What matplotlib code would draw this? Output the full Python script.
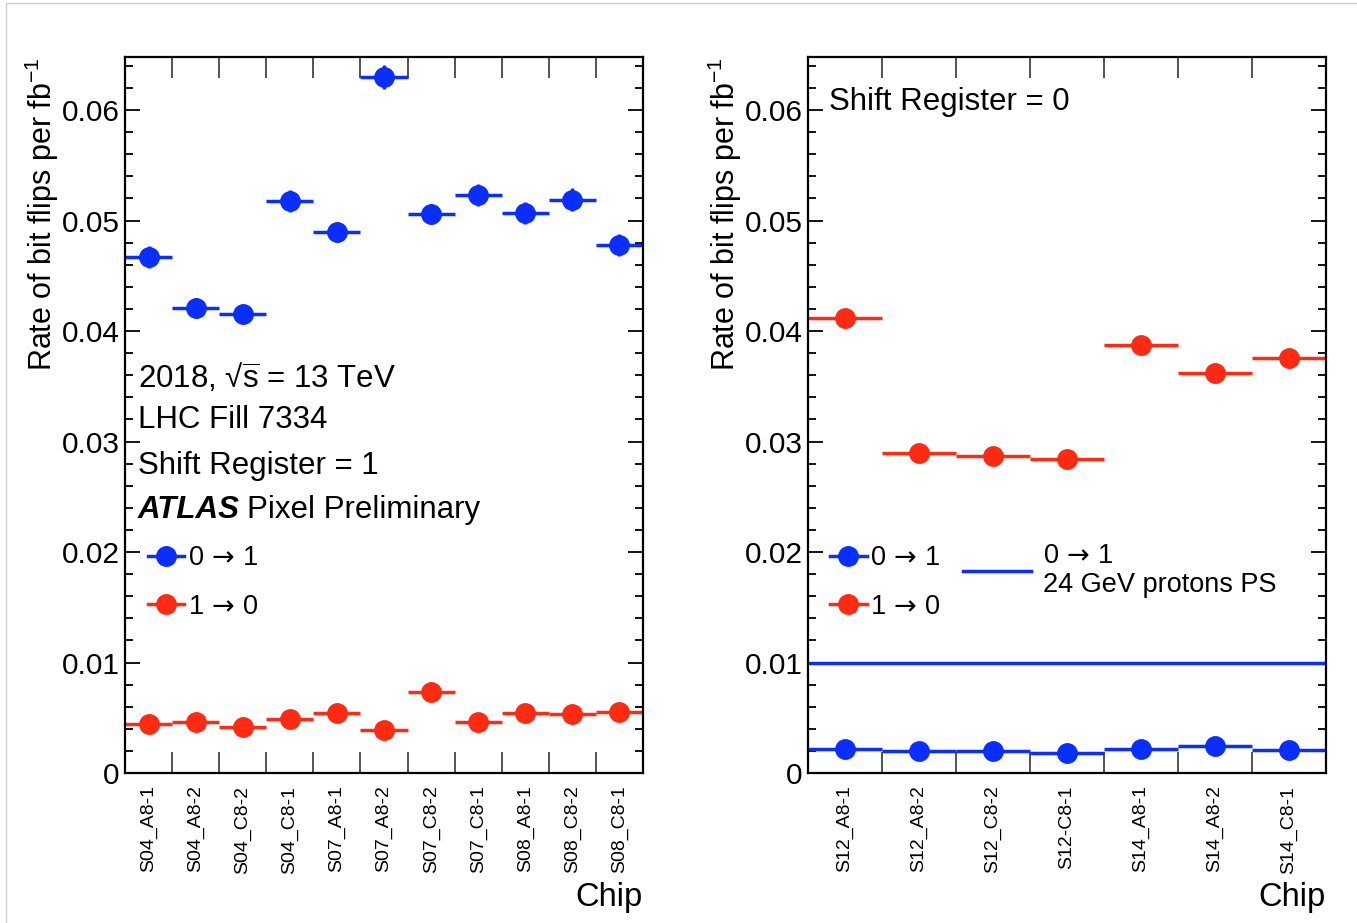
import numpy as np
import matplotlib.pyplot as plt
from matplotlib.lines import Line2D
from matplotlib.patches import Rectangle
from matplotlib.ticker import MultipleLocator

plt.rcParams['font.family'] = ['Liberation Sans', 'DejaVu Sans']
plt.rcParams['mathtext.fontset'] = 'custom'
plt.rcParams['mathtext.rm'] = 'Liberation Sans'
plt.rcParams['mathtext.it'] = 'Liberation Sans:italic'
plt.rcParams['mathtext.bf'] = 'Liberation Sans:bold'
plt.rcParams['mathtext.sf'] = 'DejaVu Sans'

# Shift Register = 1
chips_sr1 = ['S04_A8-1', 'S04_A8-2', 'S04_C8-2', 'S04_C8-1', 'S07_A8-1', 'S07_A8-2',
             'S07_C8-2', 'S07_C8-1', 'S08_A8-1', 'S08_C8-2', 'S08_C8-1']
rate01_sr1 = [0.0467, 0.0421, 0.0415, 0.0518, 0.0490, 0.0630, 0.0506, 0.0523, 0.0507, 0.0519, 0.0478]
err01_sr1 = [0.0010, 0.0009, 0.0009, 0.0010, 0.0009, 0.0011, 0.0009, 0.0010, 0.0010, 0.0010, 0.0010]
rate10_sr1 = [0.0044, 0.0046, 0.0042, 0.0049, 0.0054, 0.0039, 0.0073, 0.0046, 0.0054, 0.0053, 0.0055]
err10_sr1 = [0.0003] * 11

# Shift Register = 0
chips_sr0 = ['S12_A8-1', 'S12_A8-2', 'S12_C8-2', 'S12-C8-1', 'S14_A8-1', 'S14_A8-2', 'S14_C8-1']
rate01_sr0 = [0.0022, 0.0020, 0.0020, 0.0018, 0.0022, 0.0024, 0.0021]
err01_sr0 = [0.0003] * 7
rate10_sr0 = [0.0412, 0.0290, 0.0287, 0.0284, 0.0387, 0.0362, 0.0376]
err10_sr0 = [0.0005] * 7

ps_rate01 = 0.01

yticks = [0, 0.01, 0.02, 0.03, 0.04, 0.05, 0.06]
yticklabels = ['0', '0.01', '0.02', '0.03', '0.04', '0.05', '0.06']

ARROW = r'$\,\mathsf{\rightarrow}\,$'
lab01 = '0' + ARROW + '1'
lab10 = '1' + ARROW + '0'

BLUE = '#0a2eff'
RED = '#ff2a12'
W, H = 1357, 923
TXT = 22.5


def draw_panel(ax, chips, r01, e01, r10, e10):
    n = len(chips)
    x = np.arange(n) + 0.5
    kw = dict(xerr=0.5, fmt='o', ms=14, lw=0, elinewidth=2.5, capsize=0)
    ax.errorbar(x, r10, yerr=e10, color=RED, **kw)
    ax.errorbar(x, r01, yerr=e01, color=BLUE, **kw)
    ax.set_xlim(0, n)
    ax.set_ylim(0, 0.0648)
    ax.set_xticks(np.arange(n + 1))
    ax.set_xticks(x, chips, minor=True)
    ax.tick_params(axis='x', which='major', direction='in', top=True, length=15,
                   width=1.3, color='#444444', labelbottom=False)
    ax.tick_params(axis='x', which='minor', length=0, labelrotation=90, labelsize=14, pad=9)
    ax.set_yticks(yticks, yticklabels)
    ax.yaxis.set_minor_locator(MultipleLocator(0.002))
    ax.tick_params(axis='y', which='major', direction='in', right=True, length=11,
                   width=1.3, labelsize=21.5, pad=4)
    ax.tick_params(axis='y', which='minor', direction='in', right=True, length=6, width=1.3)
    for s in ax.spines.values():
        s.set_linewidth(1.6)
    ax.set_ylabel(r'Rate of bit flips per fb$^{-1}$', loc='top', fontsize=22)
    ax.yaxis.set_label_coords(-0.124, 1.0)
    ax.set_xlabel('Chip', loc='right', fontsize=23.5)
    ax.xaxis.set_label_coords(1.0, -0.152)


fig = plt.figure(figsize=(W / 100, H / 100), dpi=100)
axl = fig.add_axes([125 / W, 1 - 773 / H, 518 / W, 716 / H])
axr = fig.add_axes([808 / W, 1 - 773 / H, 518 / W, 716 / H])

draw_panel(axl, chips_sr1, rate01_sr1, err01_sr1, rate10_sr1, err10_sr1)
draw_panel(axr, chips_sr0, rate01_sr0, err01_sr0, rate10_sr0, err10_sr0)

# left panel annotations
tx = 0.025
axl.text(tx, 0.552, r'2018, √$\overline{\mathrm{s}}$ = 13 TeV', transform=axl.transAxes, fontsize=TXT, va='center')
axl.text(tx, 0.493, 'LHC Fill 7334', transform=axl.transAxes, fontsize=TXT, va='center')
axl.text(tx, 0.429, 'Shift Register = 1', transform=axl.transAxes, fontsize=TXT, va='center')
axl.text(tx, 0.367, 'ATLAS', transform=axl.transAxes, fontsize=TXT, va='center',
         fontweight='bold', fontstyle='italic')
axl.text(0.2355, 0.367, 'Pixel Preliminary', transform=axl.transAxes, fontsize=TXT, va='center')

h01 = Line2D([], [], color=BLUE, marker='o', ms=14, lw=2.5)
h10 = Line2D([], [], color=RED, marker='o', ms=14, lw=2.5)
leg_kw = dict(loc='upper left', frameon=False, fontsize=19.5, handlelength=1.35, handletextpad=0.12,
              labelspacing=0.83, borderaxespad=0, borderpad=0, numpoints=1)
axl.legend([h01, h10], [lab01, lab10], bbox_to_anchor=(0.044, 0.318), **leg_kw)

# right panel
axr.axhline(ps_rate01, color=BLUE, lw=2.5)
axr.text(0.04, 0.9365, 'Shift Register = 0', transform=axr.transAxes, fontsize=TXT, va='center')
leg1 = axr.legend([h01, h10], [lab01, lab10], bbox_to_anchor=(0.0425, 0.318), **leg_kw)
axr.add_artist(leg1)
hps = Line2D([], [], color=BLUE, lw=2.5)
leg2 = axr.legend([hps], [lab01 + '\n24 GeV protons PS'], loc='upper left',
                  bbox_to_anchor=(0.299, 0.321), frameon=False, fontsize=19.5,
                  handlelength=2.5, handletextpad=0.45, borderaxespad=0, borderpad=0)
for t in leg2.get_texts():
    t.set_linespacing(1.12)

fig.add_artist(Rectangle((6 / W, -0.05), 1.2, 1.05 - 3 / H, transform=fig.transFigure,
                         fill=False, edgecolor='#cccccc', lw=1))

fig.savefig('out.png', dpi=100)
